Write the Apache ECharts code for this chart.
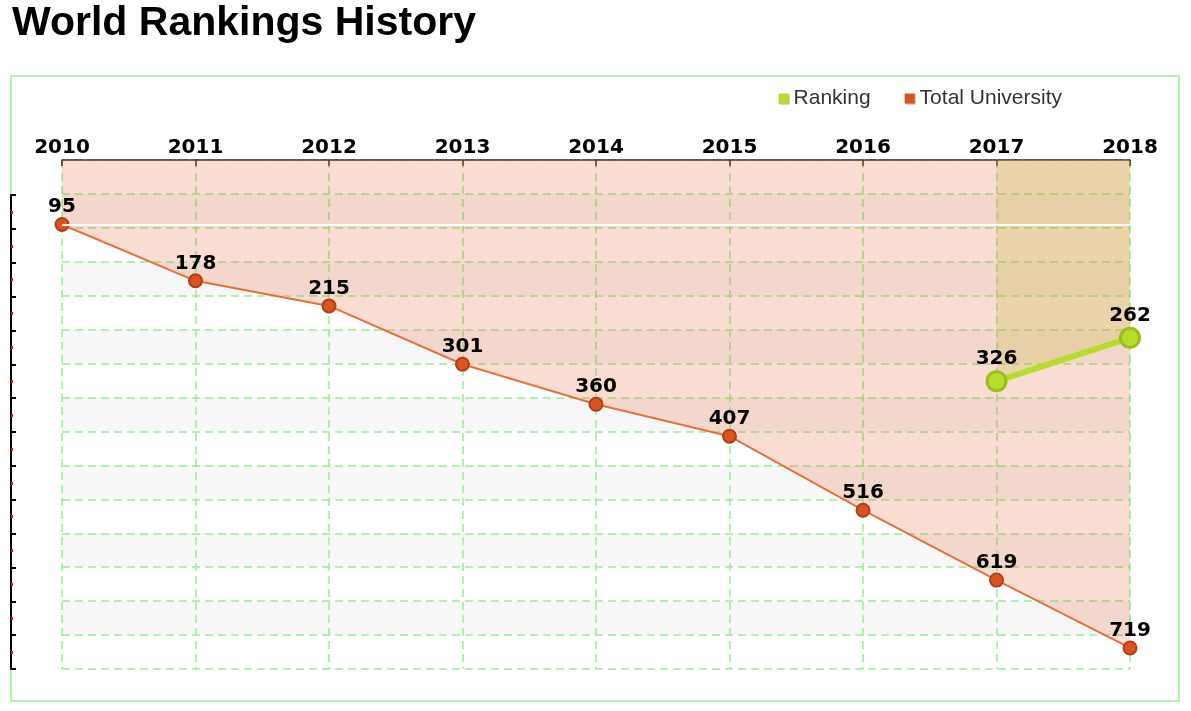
<!DOCTYPE html>
<html>
<head>
<meta charset="utf-8">
<script src="https://cdn.jsdelivr.net/npm/echarts@6/dist/echarts.min.js"></script>
<style>
html,body{margin:0;padding:0;background:#fff;}
#chart{width:1191px;height:711px;}
</style>
</head>
<body>
<div id="chart"></div>
<script>
var years = ['2010','2011','2012','2013','2014','2015','2016','2017','2018'];
var totalUniversity = [95,178,215,301,360,407,516,619,719];
var ranking = [null,null,null,null,null,null,null,326,262];
var yTickStep = 50;
var yMax = 750;

var chart = echarts.init(document.getElementById('chart'));
var labelFont = {color:'#000', fontFamily:'DejaVu Sans', fontWeight:'bold', fontSize:20};
var gridGreen = '#96f093';
var option = {
  animation:false,
  title:{text:'World Rankings History', left:7, top:-2,
    textStyle:{fontFamily:'Liberation Sans', fontWeight:'bold', fontSize:41, color:'#000'}},
  legend:{
    data:['Ranking','Total University'], right:124, top:83, icon:'rect',
    itemWidth:10, itemHeight:10, itemGap:34,
    itemStyle:{borderWidth:0, shadowColor:'rgba(0,0,0,0.3)', shadowOffsetX:1, shadowOffsetY:1},
    textStyle:{fontFamily:'Liberation Sans', fontSize:21, color:'#333'}
  },
  graphic:[{type:'rect', shape:{x:11,y:76,width:1168,height:625}, style:{fill:'none', stroke:'#b3f5ae', lineWidth:2}, z:-1}],
  grid:[
    {left:62, right:61, top:160, bottom:42},
    {left:11, right:61, top:195, bottom:42}
  ],
  xAxis:[{
    type:'category', data:years, position:'top', boundaryGap:false,
    axisLine:{lineStyle:{color:'#3a2a1e', width:1.5}},
    axisTick:{inside:true, length:6, lineStyle:{color:'#3a2a1e', width:1.5}},
    axisLabel:Object.assign({margin:2}, labelFont),
    splitLine:{show:true, lineStyle:{color:gridGreen, type:[8,5], width:1.5}}
  },{
    type:'value', gridIndex:1, show:false, min:0, max:1
  }],
  yAxis:[{
    type:'value', inverse:true, min:0, max:yMax, interval:yTickStep,
    axisLine:{show:false}, axisTick:{show:false}, axisLabel:{show:false},
    splitLine:{show:true, lineStyle:{color:gridGreen, type:[8,5], width:1.5}},
    splitArea:{show:true, areaStyle:{color:['#ffffff','#f7f7f7']}}
  },{
    type:'value', gridIndex:1, inverse:true, min:yTickStep, max:yMax, interval:yTickStep,
    axisLine:{show:true, lineStyle:{color:'#000', width:2}},
    axisTick:{show:true, inside:true, length:5, lineStyle:{color:'#000', width:2}},
    minorTick:{show:true, splitNumber:2, length:2, lineStyle:{color:'#ff0000', width:3}},
    axisLabel:{show:false}, splitLine:{show:false}
  }],
  series:[{
    name:'Total University', type:'line', data:totalUniversity,
    symbol:'circle', symbolSize:13,
    itemStyle:{color:'#d9541e', borderColor:'#b33d17', borderWidth:2},
    lineStyle:{color:'#e8703a', width:2},
    areaStyle:{color:'rgba(230,108,62,0.33)'},
    label:Object.assign({show:true, position:'top', distance:0}, labelFont),
    markLine:{silent:true, symbol:'none', label:{show:false},
      lineStyle:{color:'rgba(255,255,255,0.9)', width:2, type:'solid'},
      data:[{yAxis:96}]},
    z:2
  },{
    name:'Ranking', type:'line', data:ranking,
    symbol:'circle', symbolSize:19,
    itemStyle:{color:'#b8dc2a', borderColor:'#9dbd1c', borderWidth:3},
    lineStyle:{color:'#b8dc2a', width:6},
    areaStyle:{color:'rgba(196,184,60,0.36)'},
    label:Object.assign({show:true, position:'top', distance:1}, labelFont),
    z:3
  }]
};
chart.setOption(option);
</script>
</body>
</html>
